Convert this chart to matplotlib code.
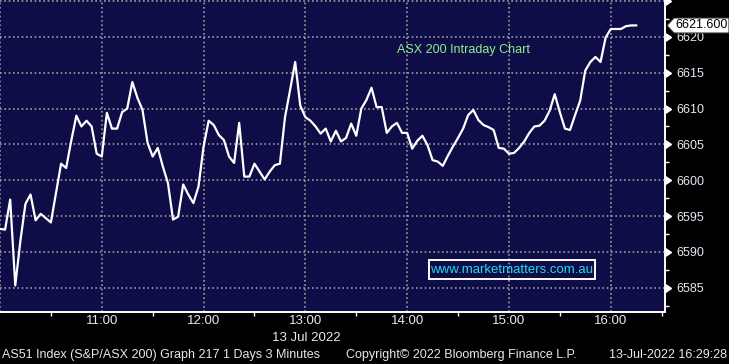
import matplotlib
matplotlib.use('Agg')
import matplotlib.pyplot as plt
from matplotlib.patches import Polygon, Rectangle
import pandas as pd

# AS51 intraday, 3 minute bars starting 10:00
prices = [6593.2, 6593.1, 6597.3, 6585.3, 6591.5, 6596.7, 6598.0, 6594.4, 6595.3, 6594.7,
          6594.1, 6598.2, 6602.3, 6601.7, 6605.5, 6609.0, 6607.5, 6608.3, 6607.5, 6603.7,
          6603.3, 6609.4, 6607.2, 6607.2, 6609.5, 6610.0, 6613.7, 6611.5, 6609.8, 6605.2,
          6603.3, 6604.5, 6601.9, 6599.6, 6594.5, 6594.9, 6599.4, 6598.0, 6596.8, 6599.1,
          6604.7, 6608.3, 6607.7, 6606.3, 6605.6, 6603.3, 6602.4, 6608.0, 6600.5, 6600.5,
          6602.3, 6601.2, 6600.1, 6601.2, 6602.1, 6602.3, 6608.8, 6612.6, 6616.5, 6610.4,
          6608.8, 6608.3, 6607.5, 6606.5, 6607.2, 6605.4, 6606.9, 6605.4, 6605.9, 6607.9,
          6606.2, 6610.0, 6611.2, 6612.9, 6610.2, 6610.2, 6606.6, 6607.5, 6608.0, 6606.6,
          6606.6, 6604.4, 6605.5, 6606.2, 6604.9, 6602.8, 6602.6, 6602.0, 6603.4, 6604.7,
          6605.9, 6607.2, 6609.1, 6609.8, 6608.4, 6607.7, 6607.4, 6607.0, 6604.5, 6604.4,
          6603.7, 6603.8, 6604.5, 6605.4, 6606.6, 6607.5, 6607.6, 6608.3, 6609.7, 6612.0,
          6609.5, 6607.2, 6607.0, 6609.1, 6611.1, 6615.3, 6616.5, 6617.2, 6616.5, 6619.9,
          6621.1, 6621.1, 6621.1, 6621.5, 6621.6, 6621.6]
start_time = '2022-07-13 10:00'
last_price = '6621.600'

y_ticks = [6585, 6590, 6595, 6600, 6605, 6610, 6615, 6620, 6625]
y_labels = ['6585', '6590', '6595', '6600', '6605', '6610', '6615', '6620', '']
y_minor = [6582.5, 6587.5, 6592.5, 6597.5, 6602.5, 6607.5, 6612.5, 6617.5, 6622.5]
hour_ticks = ['10:00', '11:00', '12:00', '13:00', '14:00', '15:00', '16:00']
hour_labels = ['', '11:00', '12:00', '13:00', '14:00', '15:00', '16:00']

title = 'ASX 200 Intraday Chart'
website = 'www.marketmatters.com.au'
footer = ['AS51 Index (S&P/ASX 200) Graph 217 1 Days 3 Minutes',
          'Copyright\u00a9 2022 Bloomberg Finance L.P.',
          '13-Jul-2022 16:29:28']

W, H = 729, 364
NAVY = '#0f0d47'
TXT = '#e4e8f4'
GRID = '#9c9c9c'
FONT = 'Liberation Sans'


def px(x, y):
    return x / W, 1 - y / H


times = pd.date_range(start_time, periods=len(prices), freq='3min')
xticks = [pd.Timestamp('2022-07-13 ' + h) for h in hour_ticks]
xminor = [t + pd.Timedelta(minutes=30) for t in xticks]

fig = plt.figure(figsize=(W / 100, H / 100), dpi=100, facecolor='black')
ax = fig.add_axes([0, 1 - 312 / H, 665 / W, 312 / H])
ax.set_facecolor(NAVY)

# dotted grid
for y in y_ticks:
    ax.axhline(y, color=GRID, lw=1.2, ls=(0, (1, 1.6)), zorder=1)
for t in xticks:
    ax.axvline(t, color=GRID, lw=1.2, ls=(0, (1, 1.6)), zorder=1)

ax.plot(times, prices, color='white', lw=1.6, zorder=3)

ax.set_xlim(pd.Timestamp('2022-07-13 10:00'), pd.Timestamp('2022-07-13 16:32'))
ax.set_ylim(6581.6, 6625.15)

ax.set_xticks(xticks)
ax.set_xticklabels(hour_labels)
ax.set_xticks(xminor, minor=True)
ax.set_yticks(y_ticks)
ax.set_yticklabels(y_labels)
ax.set_yticks(y_minor, minor=True)

ax.yaxis.tick_right()
ax.tick_params(axis='y', which='major', length=0, pad=8, labelsize=9,
               labelcolor=TXT)
ax.tick_params(axis='y', which='minor', length=3, width=1, color='white',
               direction='out')
ax.tick_params(axis='x', which='major', length=0, pad=2.5, labelsize=9.5,
               labelcolor=TXT)
ax.tick_params(axis='x', which='minor', length=3, width=1, color='white',
               direction='out')
for lab in ax.get_xticklabels() + ax.get_yticklabels():
    lab.set_fontfamily(FONT)

for side in ['top', 'left']:
    ax.spines[side].set_visible(False)
for side in ['bottom', 'right']:
    ax.spines[side].set_color('white')
    ax.spines[side].set_linewidth(1.4)

# caret markers on the price axis
ax.plot([1] * len(y_ticks), y_ticks, transform=ax.get_yaxis_transform(),
        ls='none', marker=9, ms=6, color='white', clip_on=False, zorder=5)

fig.text(*px(306, 338), '13 Jul 2022', ha='center', va='center',
         color=TXT, fontsize=9.5, family=FONT)

fig.text(*px(2, 355), footer[0], ha='left', va='center', color=TXT,
         fontsize=9, family=FONT)
fig.text(*px(346, 355), footer[1], ha='left', va='center', color=TXT,
         fontsize=9, family=FONT)
fig.text(*px(727, 355), footer[2], ha='right', va='center', color=TXT,
         fontsize=9, family=FONT)

fig.text(*px(397, 50), title, ha='left', va='center', color='#8cf08c',
         fontsize=9, family=FONT)

# website box
x0, y0 = px(429, 279)
x1, y1 = px(595, 260)
fig.patches.append(Rectangle((x0, y0), x1 - x0, y1 - y0, transform=fig.transFigure,
                             fill=False, ec='white', lw=1.4, zorder=6))
fig.text(*px(512, 270), website, ha='center', va='center', color='#22d8f0',
         fontsize=9.5, family=FONT, zorder=7)

# last price flag
flag = [px(667, 25.5), px(674, 18), px(729, 18), px(729, 33), px(674, 33)]
fig.patches.append(Polygon(flag, closed=True, transform=fig.transFigure,
                           fc='white', ec='#333333', lw=0.8, zorder=6))
fig.text(*px(675, 25.5), last_price, ha='left', va='center', color='black',
         fontsize=9, family=FONT, zorder=7)

fig.savefig('out.png', dpi=100, facecolor='black')
